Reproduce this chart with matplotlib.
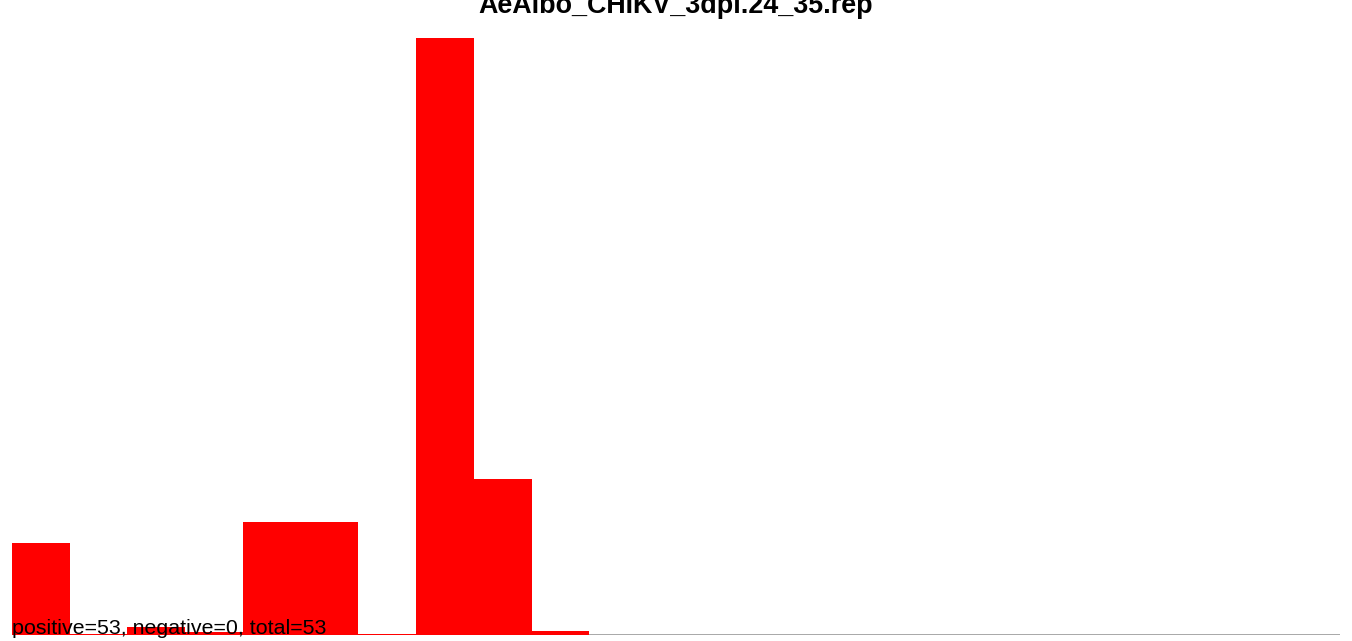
import numpy as np
import matplotlib.pyplot as plt

plt.rcParams['font.family'] = ['Liberation Sans', 'DejaVu Sans']

# Valeurs (hauteur des barres, unités arbitraires)
title = "AeAlbo_CHIKV_3dpi.24_35.rep"
counts = [4.47, 0.07, 0.40, 0.16, 5.51, 5.51, 0.05, 29.1, 7.6, 0.2,
          0, 0, 0, 0, 0, 0, 0, 0, 0, 0, 0, 0, 0]
positive = 53
negative = 0
total = 53

fig = plt.figure(figsize=(13.52, 6.41), dpi=100)
ax = fig.add_axes([12 / 1352, 6 / 641, 1328 / 1352, 597 / 641])

x = np.arange(len(counts))
ax.bar(x, counts, width=1, align='edge', color='red', linewidth=0)
ax.axhline(0, color='#999999', linewidth=1.2, zorder=0)

ax.set_xlim(0, len(counts))
ax.set_ylim(0, max(counts))
ax.axis('off')

ax.text(0, 0.05, f"positive={positive}, negative={negative}, total={total}",
        fontsize=15.4, va='baseline', ha='left', color='black')

fig.text(0.5, 1 - 13 / 641, title, fontsize=19.4, fontweight='bold',
         ha='center', va='baseline')

fig.savefig("out.png", dpi=100)
